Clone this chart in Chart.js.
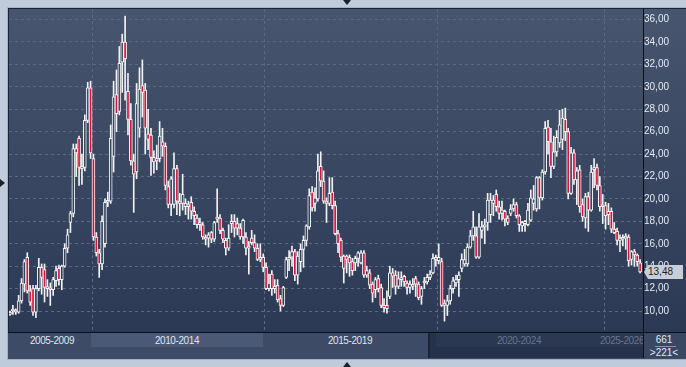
<!DOCTYPE html>
<html>
<head>
<meta charset="utf-8">
<script src="https://cdn.jsdelivr.net/npm/chart.js@4.4.1/dist/chart.umd.min.js"></script>
<style>
    body { margin: 0; width: 686px; height: 367px; background: #bfcadb; position: relative; overflow: hidden;
           font-family: "Liberation Sans", Arial, sans-serif; }
    .abs { position: absolute; }
    #frame { left: 7px; top: 7px; width: 680px; height: 351px; background: #1b2436; border: 1px solid #a3b0c3; border-right: none; }
    #chart { left: 9px; top: 9px; }
    #strip { left: 8px; top: 332px; width: 678px; height: 26px; background: #3d4b66; border-top: 1px solid #0b0f18; }
    #seg2010 { left: 91px; top: 333px; width: 172px; height: 14px; background: #4a5976; }
    #dark { left: 428px; top: 333px; width: 213px; height: 25px; background: #26324b; border-left: 2px solid #1a2436; }
    #darkIn { left: 436px; top: 333px; width: 207px; height: 14px; background: #2b3852; }
    .period { top: 334px; height: 13px; line-height: 13px; width: 60px; text-align: center; font-size: 10px; letter-spacing: -0.4px; color: #dde6f4; }
    .period.off { color: #67758e; }
    #axisStrip { left: 643px; top: 333px; width: 43px; height: 25px; background: #3a4763; border-left: 1px solid #0b0f18; }
    .count { left: 644px; width: 40px; text-align: center; font-size: 10px; color: #e3e9f2; height: 12px; line-height: 12px; }
    #countLine { left: 655px; top: 346px; width: 21px; height: 1px; background: #8593aa; }
    #lastTag { left: 644px; width: 39px; height: 14px; line-height: 14px; background: #c9ced6; color: #1a1f2b;
               font-size: 10px; text-indent: 4px;
               clip-path: polygon(0 50%, 4px 0, 100% 0, 100% 100%, 4px 100%); }
    .tri { width: 0; height: 0; }
</style>
</head>
<body>
<div id="frame" class="abs"></div>
<canvas id="chart" class="abs" width="677" height="323"></canvas>
<div id="strip" class="abs"></div>
<div id="seg2010" class="abs"></div>
<div id="dark" class="abs"></div>
<div id="darkIn" class="abs"></div>
<div id="periods"></div>
<div id="axisStrip" class="abs"></div>
<div class="abs count" style="top:334px">661</div>
<div id="countLine" class="abs"></div>
<div class="abs count" style="top:347px">&gt;221&lt;</div>
<div id="lastTag" class="abs"></div>
<div class="abs tri" style="left:343px;top:0;border-left:4px solid transparent;border-right:4px solid transparent;border-top:5px solid #1a1f2b"></div>
<div class="abs tri" style="left:343px;top:362px;border-left:4px solid transparent;border-right:4px solid transparent;border-bottom:5px solid #1a1f2b"></div>
<div class="abs tri" style="left:0;top:179px;border-top:4px solid transparent;border-bottom:4px solid transparent;border-left:5px solid #1a1f2b"></div>

<script>
// monthly candles, oldest first
const opens = [
    9.8, 10.0, 10.0, 9.9, 10.9, 12.4, 14.8, 11.8, 12.0, 9.9,
    12.0, 13.9, 13.7, 12.1, 12.0, 11.9, 12.7, 13.8, 12.8, 14.0,
    15.6, 17.9, 18.7, 24.5, 25.4, 22.8, 22.8, 27.0, 29.9, 23.6,
    16.6, 15.2, 14.2, 16.0, 19.7, 19.8, 23.8, 29.3, 27.8, 32.2,
    34.0, 29.6, 27.1, 23.4, 22.4, 26.3, 30.1, 29.7, 25.8, 25.7,
    23.7, 23.4, 23.6, 25.1, 24.7, 21.1, 19.5, 19.5, 22.7, 19.8,
    19.6, 19.6, 19.3, 19.7, 18.9, 18.3, 17.7, 17.7, 16.6, 16.5,
    17.0, 16.4, 18.2, 18.3, 17.2, 16.3, 15.6, 17.8, 18.0, 17.8,
    17.4, 16.6, 16.6, 15.6, 16.5, 16.1, 15.6, 14.6, 14.8, 13.9,
    12.0, 13.3, 12.0, 12.3, 11.1, 10.5, 13.0, 14.6, 14.8, 15.3,
    13.2, 14.4, 15.5, 16.3, 17.5, 20.6, 19.6, 20.0, 22.9, 21.6,
    19.8, 19.6, 20.6, 19.4, 16.9, 16.3, 14.9, 14.9, 14.8, 14.4,
    14.3, 14.7, 14.3, 15.2, 13.2, 13.4, 12.4, 11.9, 12.9, 12.1,
    10.5, 10.5, 11.3, 13.4, 13.2, 12.2, 12.8, 13.1, 12.5, 12.1,
    12.3, 12.9, 12.4, 11.3, 12.6, 12.6, 13.0, 13.4, 14.6, 14.5,
    14.4, 10.5, 10.5, 10.9, 12.0, 12.5, 12.8, 13.8, 14.2, 14.2,
    15.7, 16.7, 16.7, 14.8, 17.2, 17.5, 17.9, 18.6, 19.6, 20.4,
    19.3, 18.7, 18.9, 18.3, 18.7, 19.1, 19.5, 18.5, 17.6, 17.8,
    17.7, 18.1, 19.6, 19.1, 21.9, 20.1, 22.4, 26.4, 25.1, 22.9,
    24.2, 25.0, 25.3, 27.1, 26.0, 20.5, 24.1, 21.7, 22.6, 19.5,
    18.3, 20.2, 19.0, 22.6, 22.8, 21.2, 19.3, 19.4, 18.9, 18.9,
    17.3, 17.1, 16.3, 16.4, 16.5, 16.6, 14.6, 15.3, 15.0, 14.3
];
const highs = [
    10.0, 10.5, 10.2, 11.4, 12.9, 14.6, 15.2, 12.3, 12.3, 12.3,
    14.7, 14.2, 14.2, 12.8, 12.5, 13.0, 14.0, 14.1, 14.1, 16.0,
    17.3, 18.9, 24.9, 24.9, 25.6, 24.0, 27.5, 30.4, 30.5, 24.0,
    17.0, 15.5, 18.5, 20.0, 20.6, 26.6, 30.5, 31.5, 33.6, 34.7,
    36.3, 31.2, 28.5, 24.0, 30.3, 31.7, 32.4, 30.3, 28.0, 26.3,
    24.3, 24.8, 26.9, 26.3, 25.0, 21.6, 22.0, 24.1, 23.0, 20.5,
    22.2, 20.0, 19.8, 20.2, 19.3, 18.6, 18.3, 17.9, 16.8, 17.0,
    17.1, 18.0, 20.9, 18.6, 17.4, 16.5, 17.7, 18.6, 18.6, 18.3,
    17.8, 18.2, 17.0, 16.2, 17.2, 16.8, 16.0, 16.0, 15.1, 14.3,
    13.3, 13.6, 12.8, 12.8, 11.4, 12.2, 14.8, 15.4, 15.8, 15.5,
    15.3, 16.0, 16.7, 17.7, 20.9, 21.1, 21.0, 24.0, 24.2, 22.5,
    20.1, 21.9, 21.9, 19.8, 17.2, 16.5, 15.0, 15.0, 15.0, 14.7,
    14.9, 15.3, 15.4, 15.4, 14.0, 13.7, 12.6, 13.0, 13.2, 12.4,
    11.1, 11.8, 14.0, 13.8, 13.6, 13.5, 13.5, 13.2, 12.7, 12.7,
    12.9, 13.1, 12.6, 12.2, 13.0, 13.3, 13.6, 15.1, 15.0, 16.0,
    14.7, 11.0, 11.4, 12.3, 13.0, 13.2, 13.5, 15.1, 15.5, 16.0,
    17.2, 18.9, 17.5, 18.7, 18.0, 18.2, 20.5, 20.5, 20.3, 20.8,
    19.8, 19.8, 19.0, 18.5, 19.5, 20.0, 19.7, 18.6, 18.0, 18.1,
    19.6, 20.8, 21.2, 22.0, 22.0, 22.6, 26.9, 27.0, 26.3, 25.6,
    26.1, 27.9, 28.0, 28.1, 26.3, 24.6, 24.4, 22.8, 23.0, 20.0,
    20.5, 20.6, 23.0, 23.6, 23.1, 22.0, 20.4, 19.7, 19.6, 19.2,
    17.9, 17.4, 16.8, 16.8, 16.9, 16.8, 15.4, 15.5, 15.1, 14.6
];
const lows = [
    9.6, 9.7, 9.7, 9.8, 10.7, 11.7, 11.6, 10.5, 9.6, 9.4,
    11.8, 11.5, 10.8, 11.3, 10.5, 11.4, 12.2, 12.3, 11.9, 13.9,
    15.2, 17.0, 18.4, 22.0, 21.2, 21.3, 22.5, 26.8, 23.6, 16.3,
    14.9, 13.0, 13.7, 15.7, 19.3, 19.6, 22.4, 26.0, 27.5, 29.5,
    28.8, 25.7, 23.0, 18.8, 21.8, 25.5, 27.3, 24.0, 24.4, 22.1,
    22.3, 22.6, 23.3, 23.8, 20.8, 19.2, 18.5, 19.2, 18.6, 18.5,
    19.0, 18.6, 18.2, 18.2, 17.7, 17.4, 17.2, 16.4, 15.9, 15.7,
    16.1, 16.2, 17.9, 16.9, 16.1, 15.0, 15.4, 17.0, 16.6, 16.8,
    16.4, 16.0, 15.0, 13.3, 15.9, 15.3, 14.5, 14.4, 13.5, 11.9,
    11.8, 11.4, 11.6, 10.8, 10.0, 10.4, 12.9, 13.6, 14.0, 12.7,
    12.4, 13.5, 13.9, 15.8, 17.3, 18.9, 18.9, 19.8, 21.1, 19.6,
    17.9, 19.4, 19.1, 16.8, 15.2, 14.4, 12.5, 13.4, 13.1, 13.2,
    13.6, 14.0, 14.2, 13.0, 13.0, 12.0, 10.8, 11.2, 11.7, 10.3,
    9.9, 9.8, 11.1, 12.1, 11.5, 12.0, 12.2, 12.2, 11.5, 11.6,
    11.9, 11.3, 11.0, 10.6, 12.0, 12.4, 12.8, 13.3, 14.0, 14.2,
    10.4, 9.1, 9.6, 10.6, 11.6, 12.2, 11.3, 13.5, 14.0, 14.0,
    15.6, 16.3, 14.7, 14.7, 16.5, 16.0, 17.2, 17.9, 18.5, 18.9,
    18.2, 18.1, 17.6, 17.7, 18.5, 18.9, 18.3, 17.1, 17.1, 17.1,
    17.6, 18.0, 19.0, 18.9, 19.1, 19.9, 22.2, 24.0, 21.9, 22.7,
    23.8, 24.6, 24.4, 25.2, 20.0, 20.4, 21.3, 19.5, 18.8, 18.0,
    17.4, 17.1, 18.9, 21.0, 20.8, 18.9, 17.8, 17.3, 17.7, 17.0,
    16.9, 15.9, 15.3, 15.8, 15.5, 14.0, 14.1, 14.0, 14.0, 13.4
];
const closes = [
    9.7, 10.1, 9.9, 10.9, 12.5, 14.4, 11.8, 10.8, 9.9, 12.0,
    13.9, 13.0, 12.1, 12.0, 11.9, 12.8, 13.6, 12.8, 14.0, 15.6,
    16.8, 18.7, 24.5, 24.1, 22.8, 22.7, 27.0, 29.9, 24.1, 16.6,
    15.2, 14.2, 18.0, 19.7, 19.8, 25.4, 29.1, 27.6, 32.1, 34.0,
    32.5, 27.1, 23.4, 22.2, 28.5, 29.8, 29.5, 26.3, 25.3, 23.7,
    23.3, 23.6, 25.6, 24.7, 21.2, 19.5, 21.8, 22.7, 19.8, 19.6,
    20.4, 19.3, 19.5, 18.9, 18.5, 17.7, 17.9, 16.6, 16.4, 16.8,
    16.4, 17.9, 18.3, 17.2, 16.4, 15.6, 16.5, 18.0, 17.4, 17.4,
    16.6, 18.1, 15.6, 15.8, 16.1, 15.6, 14.6, 14.8, 13.9, 12.0,
    12.5, 12.0, 12.2, 11.0, 10.5, 12.1, 14.6, 14.8, 15.3, 13.2,
    14.9, 15.5, 16.3, 17.6, 20.3, 19.2, 20.1, 22.5, 21.6, 19.8,
    19.6, 20.5, 19.4, 16.9, 16.0, 14.8, 13.8, 14.6, 14.3, 13.6,
    14.7, 15.2, 15.2, 13.2, 13.6, 12.3, 11.6, 12.8, 12.0, 10.5,
    10.3, 10.2, 13.4, 13.1, 12.2, 12.9, 12.9, 12.6, 12.1, 12.4,
    12.2, 12.4, 11.2, 12.0, 12.5, 13.0, 13.3, 14.7, 14.8, 14.8,
    10.5, 10.7, 10.9, 12.0, 12.7, 12.8, 13.2, 14.6, 14.6, 15.7,
    16.7, 17.5, 14.8, 17.5, 17.5, 17.7, 19.9, 19.9, 19.9, 19.3,
    18.7, 19.0, 18.2, 17.9, 19.1, 19.5, 18.5, 17.7, 17.9, 18.0,
    19.0, 20.1, 20.0, 21.9, 20.1, 22.4, 26.3, 25.1, 22.9, 24.2,
    25.5, 26.6, 27.2, 26.0, 20.5, 24.1, 21.7, 22.5, 19.3, 18.4,
    20.2, 19.0, 22.4, 22.8, 21.2, 19.3, 19.4, 18.5, 18.6, 17.3,
    17.0, 16.3, 16.5, 16.45, 16.6, 14.5, 15.3, 15.0, 14.4, 13.48
];
const priceTicks = [10, 12, 14, 16, 18, 20, 22, 24, 26, 28, 30, 32, 34, 36];
const periods = ['2005-2009', '2010-2014', '2015-2019', '2020-2024', '2025-2026'];
const periodCenters = [52, 177, 350, 519, 622];
const periodActive = [true, true, true, false, false];
const periodBreaks = [28.5, 88.5, 148.5, 206.5];

const fmt = v => v.toFixed(2).replace('.', ',');

// period labels under the plot
const holder = document.getElementById('periods');
periods.forEach((p, i) => {
    const el = document.createElement('div');
    el.className = 'abs period' + (periodActive[i] ? '' : ' off');
    el.style.left = (periodCenters[i] - 30) + 'px';
    el.textContent = p;
    holder.appendChild(el);
});

function panelGradient(chart) {
    if (!chart.$panelGrad) {
        const g = chart.ctx.createLinearGradient(0, 0, 0, chart.height);
        g.addColorStop(0, '#47556f');
        g.addColorStop(1, '#2b3954');
        chart.$panelGrad = g;
    }
    return chart.$panelGrad;
}

const backdrop = {
    id: 'backdrop',
    beforeDraw(chart) {
        const ctx = chart.ctx;
        ctx.save();
        ctx.fillStyle = panelGradient(chart);
        ctx.fillRect(0, 0, chart.width, chart.height);
        ctx.restore();
    }
};

// no room reserved for half labels at the ends
const noPadding = (s) => {
    s.paddingTop = 0;
    s.paddingBottom = 0;
    s.paddingLeft = 0;
    s.paddingRight = 0;
};

const wickData = highs.map((h, i) => ({ x: i, y: [lows[i], h] }));
const bodyData = opens.map((o, i) => ({ x: i, y: [o, closes[i]] }));

const chart = new Chart(document.getElementById('chart'), {
    type: 'bar',
    data: {
        datasets: [
            {
                data: wickData,
                backgroundColor: '#f2f2f2',
                borderWidth: 0,
                barThickness: 1,
                grouped: false,
                order: 2
            },
            {
                data: bodyData,
                backgroundColor: (c) => {
                    const i = c.dataIndex;
                    return closes[i] >= opens[i] ? panelGradient(c.chart) : '#d6133d';
                },
                borderColor: '#f4f4f4',
                borderWidth: 1,
                borderSkipped: false,
                barThickness: 3,
                minBarLength: 2,
                grouped: false,
                order: 1
            }
        ]
    },
    options: {
        responsive: false,
        devicePixelRatio: 1,
        animation: false,
        layout: { padding: 0, autoPadding: false },
        plugins: { legend: { display: false }, tooltip: { enabled: false } },
        scales: {
            x: {
                type: 'linear',
                offset: false,
                min: -0.35,
                max: 220,
                afterBuildTicks: (s) => { s.ticks = periodBreaks.map(v => ({ value: v })); },
                afterFit: (s) => { s.height = 0; noPadding(s); },
                ticks: { display: false },
                grid: { color: '#5b6985', drawTicks: false, offset: false },
                border: { display: false, dash: [3, 3] }
            },
            y: {
                position: 'right',
                min: 8.13,
                max: 36.94,
                afterBuildTicks: (s) => { s.ticks = priceTicks.map(v => ({ value: v })); },
                afterFit: (s) => { s.width = 43; noPadding(s); },
                ticks: {
                    padding: 1,
                    color: '#e6ebf3',
                    font: { family: 'Liberation Sans', size: 10 },
                    callback: (v) => fmt(v)
                },
                grid: { color: '#5b6985', drawTicks: false },
                border: { display: true, color: '#0b0f18', width: 1, dash: [3, 3] }
            }
        }
    },
    plugins: [backdrop]
});

// last price tag, placed on the price scale
const lastClose = closes[closes.length - 1];
const tag = document.getElementById('lastTag');
tag.textContent = fmt(lastClose);
tag.style.top = (9 + chart.scales.y.getPixelForValue(lastClose) - 7) + 'px';
</script>
</body>
</html>
